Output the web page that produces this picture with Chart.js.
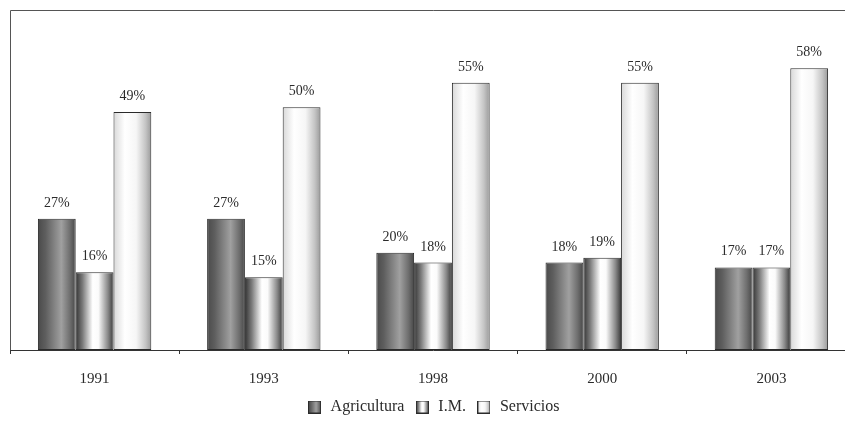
<!DOCTYPE html>
<html>
<head>
<meta charset="utf-8">
<script src="https://cdn.jsdelivr.net/npm/chart.js@4.4.1/dist/chart.umd.min.js"></script>
<style>
  html, body { margin: 0; padding: 0; background: #fff; overflow: hidden; }
  #wrap { position: relative; width: 860px; height: 425px; }
</style>
</head>
<body>
<div id="wrap"><canvas id="chart" width="860" height="425"></canvas></div>
<script>
// Employment share by sector, per year
const years = ['1991', '1993', '1998', '2000', '2003'];
const agricultura = [27, 27, 20, 18, 17];
const industria = [16, 15, 18, 19, 17];
const servicios = [49, 50, 55, 55, 58];
const seriesNames = ['Agricultura', 'I.M.', 'Servicios'];

const FONT = "'Liberation Serif', 'DejaVu Serif', serif";
const INK = '#2b2b2b';

// Cylinder-style shading, left to right across each bar
const shades = [
  [[0, '#4a4a4a'], [0.2, '#5e5e5e'], [0.62, '#a0a0a0'], [0.85, '#6e6e6e'], [1, '#474747']],
  [[0, '#333333'], [0.18, '#7a7a7a'], [0.45, '#ffffff'], [0.6, '#fbfbfb'], [0.85, '#8a8a8a'], [1, '#3a3a3a']],
  [[0, '#d8d8d8'], [0.3, '#ffffff'], [0.6, '#f6f6f6'], [0.85, '#c4c4c4'], [1, '#9a9a9a']]
];

function makeGradient(ctx, x0, x1, stops) {
  const g = ctx.createLinearGradient(x0, 0, x1, 0);
  stops.forEach(s => g.addColorStop(s[0], s[1]));
  return g;
}

// Small swatches for the legend
function swatch(stops) {
  const c = document.createElement('canvas');
  c.width = 13; c.height = 13;
  const cx = c.getContext('2d');
  cx.fillStyle = makeGradient(cx, 0, 13, stops);
  cx.fillRect(0, 0, 13, 13);
  cx.strokeStyle = INK;
  cx.lineWidth = 1;
  cx.strokeRect(0.5, 0.5, 12, 12);
  return c;
}
const swatches = shades.map(swatch);

// Give every bar its own shaded fill (resolved options may be shared, so copy them)
const shadePlugin = {
  id: 'shade',
  beforeDatasetsDraw(chart) {
    const ctx = chart.ctx;
    chart.data.datasets.forEach((ds, i) => {
      chart.getDatasetMeta(i).data.forEach(el => {
        const x0 = el.x - el.width / 2, x1 = el.x + el.width / 2;
        el.options = Object.assign({}, el.options, {
          backgroundColor: makeGradient(ctx, x0, x1, shades[i])
        });
      });
    });
  }
};

const framePlugin = {
  id: 'frame',
  beforeDatasetsDraw(chart) {
    const { ctx, chartArea: a } = chart;
    ctx.save();
    ctx.strokeStyle = '#555';
    ctx.lineWidth = 1;
    ctx.beginPath();
    ctx.moveTo(a.left + 0.5, a.bottom);
    ctx.lineTo(a.left + 0.5, a.top + 0.5);
    ctx.lineTo(a.right, a.top + 0.5);
    ctx.stroke();
    ctx.restore();
  }
};

const valueLabels = {
  id: 'valueLabels',
  afterDatasetsDraw(chart) {
    const ctx = chart.ctx;
    ctx.save();
    ctx.font = "14px " + FONT;
    ctx.fillStyle = INK;
    ctx.textAlign = 'center';
    ctx.textBaseline = 'alphabetic';
    chart.data.datasets.forEach((ds, i) => {
      chart.getDatasetMeta(i).data.forEach((el, j) => {
        ctx.fillText(ds.data[j] + '%', el.x, el.y - 12);
      });
    });
    ctx.restore();
  }
};

new Chart(document.getElementById('chart'), {
  type: 'bar',
  data: {
    labels: years,
    datasets: [
      { label: seriesNames[0], data: agricultura },
      { label: seriesNames[1], data: industria },
      { label: seriesNames[2], data: servicios }
    ].map(d => Object.assign(d, {
      borderColor: INK,
      borderWidth: 1,
      borderSkipped: false,
      backgroundColor: '#ffffff',
      barPercentage: 1,
      categoryPercentage: 0.67
    }))
  },
  options: {
    responsive: false,
    animation: false,
    devicePixelRatio: 1,
    layout: { padding: { left: 10, right: 4, top: 10, bottom: 0 } },
    scales: {
      x: {
        grid: { display: true, drawOnChartArea: false, drawTicks: true, tickLength: 4, color: '#333', offset: true },
        border: { display: true, color: '#333', width: 1 },
        ticks: { color: INK, font: { family: FONT, size: 15 }, padding: 16 },
        afterFit(scale) { scale.height = 39; }
      },
      y: {
        display: false,
        min: 0,
        max: 70
      }
    },
    plugins: {
      legend: {
        position: 'bottom',
        labels: {
          usePointStyle: true,
          color: INK,
          font: { family: FONT, size: 16 },
          padding: 10,
          generateLabels(chart) {
            return chart.data.datasets.map((ds, i) => ({
              text: ds.label,
              pointStyle: swatches[i],
              fillStyle: '#fff',
              strokeStyle: INK,
              lineWidth: 0,
              hidden: false,
              datasetIndex: i,
              fontColor: INK
            }));
          }
        }
      },
      tooltip: { enabled: false }
    }
  },
  plugins: [shadePlugin, framePlugin, valueLabels]
});
</script>
</body>
</html>
